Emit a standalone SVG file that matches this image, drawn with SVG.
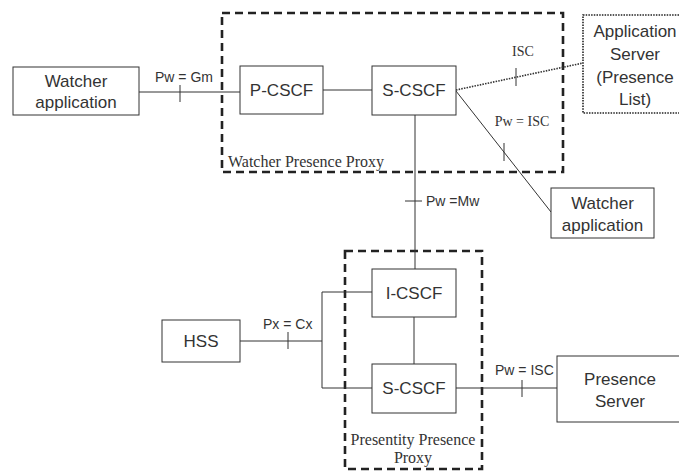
<svg xmlns="http://www.w3.org/2000/svg" width="679" height="471" viewBox="0 0 679 471">
<style>
.box{fill:#fff;stroke:#333;stroke-width:1}
.dotbox{fill:#fff;stroke:#222;stroke-width:1.6;stroke-dasharray:1.5 1.2}
.grp{fill:none;stroke:#222;stroke-width:2.6;stroke-dasharray:8 5}
.ln{fill:none;stroke:#333;stroke-width:1}
.dot{fill:none;stroke:#333;stroke-width:1.6;stroke-dasharray:1.5 1.2}
.t{font-family:"Liberation Sans",Arial,sans-serif;font-size:17px;fill:#333;text-anchor:middle}
.s{font-family:"Liberation Sans",Arial,sans-serif;font-size:14px;fill:#333}
.r{font-family:"Liberation Serif","Times New Roman",serif;font-size:16px;fill:#333}
.rs{font-family:"Liberation Serif","Times New Roman",serif;font-size:14px;fill:#333;text-anchor:middle}
</style>
<g id="watcher-presence-proxy">
<rect class="grp" x="222" y="13" width="341" height="159"/>
<text class="r" x="228" y="167">Watcher Presence Proxy</text>
</g>
<g id="presentity-presence-proxy">
<rect class="grp" x="345" y="251" width="137" height="218"/>
<text class="r" x="413" y="445" text-anchor="middle">Presentity Presence</text>
<text class="r" x="413" y="463" text-anchor="middle">Proxy</text>
</g>
<g id="connectors">
<line class="ln" x1="139" y1="92" x2="240" y2="92"/>
<line class="ln" x1="180" y1="85" x2="180" y2="102"/>
<text class="s" x="155" y="82">Pw = Gm</text>
<line class="ln" x1="323" y1="90" x2="372" y2="90"/>
<line class="dot" x1="456" y1="90" x2="583" y2="63"/>
<line class="ln" x1="516" y1="68" x2="516" y2="86"/>
<text class="rs" x="523" y="56">ISC</text>
<line class="ln" x1="456" y1="91" x2="551" y2="212"/>
<line class="ln" x1="504" y1="143" x2="504" y2="161"/>
<text class="rs" x="522" y="126">Pw = ISC</text>
<line class="ln" x1="415" y1="115" x2="415" y2="269"/>
<line class="ln" x1="405" y1="201" x2="422" y2="201"/>
<text class="s" x="426" y="206">Pw =Mw</text>
<line class="ln" x1="414" y1="317" x2="414" y2="364"/>
<line class="ln" x1="240" y1="341" x2="322" y2="341"/>
<line class="ln" x1="288" y1="332" x2="288" y2="349"/>
<text class="s" x="263" y="329">Px = Cx</text>
<polyline class="ln" points="372,292 322,292 322,388 372,388"/>
<line class="ln" x1="456" y1="388" x2="557" y2="388"/>
<line class="ln" x1="522" y1="380" x2="522" y2="397"/>
<text class="s" x="495" y="375">Pw = ISC</text>
</g>
<g id="watcher-app-1">
<rect class="box" x="13" y="67" width="126" height="48"/>
<text class="t" x="76" y="87">Watcher</text>
<text class="t" x="76" y="108">application</text>
</g>
<g id="p-cscf">
<rect class="box" x="240" y="66" width="83" height="48"/>
<text class="t" x="281.5" y="96">P-CSCF</text>
</g>
<g id="s-cscf-1">
<rect class="box" x="372" y="66" width="84" height="49"/>
<text class="t" x="414" y="96">S-CSCF</text>
</g>
<g id="app-server">
<rect class="dotbox" x="583" y="15" width="110" height="98"/>
<text class="t" x="635" y="37">Application</text>
<text class="t" x="635" y="60">Server</text>
<text class="t" x="635" y="83">(Presence</text>
<text class="t" x="635" y="105">List)</text>
</g>
<g id="watcher-app-2">
<rect class="box" x="551" y="188" width="103" height="50"/>
<text class="t" x="602.5" y="209">Watcher</text>
<text class="t" x="602.5" y="231">application</text>
</g>
<g id="i-cscf">
<rect class="box" x="372" y="269" width="84" height="48"/>
<text class="t" x="414" y="299">I-CSCF</text>
</g>
<g id="s-cscf-2">
<rect class="box" x="372" y="364" width="84" height="49"/>
<text class="t" x="414" y="394">S-CSCF</text>
</g>
<g id="hss">
<rect class="box" x="162" y="320" width="78" height="42"/>
<text class="t" x="201" y="347">HSS</text>
</g>
<g id="presence-server">
<rect class="box" x="557" y="356" width="130" height="66"/>
<text class="t" x="620" y="385">Presence</text>
<text class="t" x="620" y="407">Server</text>
</g>
</svg>
